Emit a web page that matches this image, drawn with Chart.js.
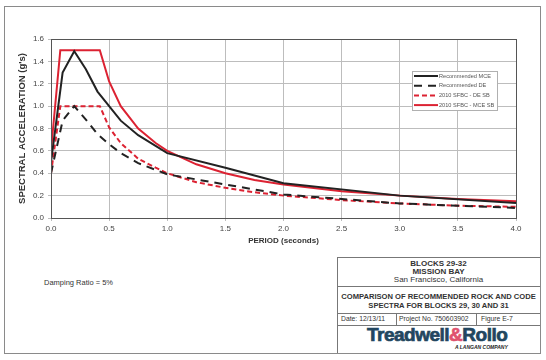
<!DOCTYPE html>
<html>
<head>
<meta charset="utf-8">
<script src="https://cdn.jsdelivr.net/npm/chart.js@4.4.1/dist/chart.umd.min.js"></script>
<style>
  body { margin: 0; background: #fff; font-family: "Liberation Sans", Arial, sans-serif; }
  #page { position: relative; width: 546px; height: 360px; overflow: hidden; background: #fff; }
  #frame { position: absolute; left: 4px; top: 6px; width: 535px; height: 346px; border: 1px solid #8a8a8a; }
  #plot { position: absolute; left: 0; top: 0; width: 546px; height: 250px; }
  .t { position: absolute; color: #333; white-space: nowrap; }
  .c { text-align: center; }
  .hl { position: absolute; height: 0; border-top: 1px solid #777; }
  .vl { position: absolute; width: 0; border-left: 1px solid #777; }
</style>
</head>
<body>
<div id="page">
  <div id="frame"></div>
  <div id="plot"><canvas id="spectraChart" width="546" height="250"></canvas></div>

  <div class="t" style="left:44px; top:278px; font-size:7.5px;">Damping Ratio = 5%</div>

  <!-- title block -->
  <div class="vl" style="left:337px; top:257px; height:96px;"></div>
  <div class="hl" style="left:337px; top:257px; width:203px;"></div>
  <div class="hl" style="left:337px; top:286px; width:203px;"></div>
  <div class="hl" style="left:337px; top:313px; width:203px;"></div>
  <div class="hl" style="left:337px; top:325px; width:203px;"></div>
  <div class="vl" style="left:396px; top:313px; height:12px;"></div>
  <div class="vl" style="left:476px; top:313px; height:12px;"></div>

  <div class="t c" style="left:337px; width:203px; top:259px; font-size:8px; font-weight:bold;">BLOCKS 29-32</div>
  <div class="t c" style="left:337px; width:203px; top:267px; font-size:8px; font-weight:bold;">MISSION BAY</div>
  <div class="t c" style="left:337px; width:203px; top:275px; font-size:8px;">San Francisco, California</div>
  <div class="t c" style="left:337px; width:203px; top:292px; font-size:7.6px; font-weight:bold;">COMPARISON OF RECOMMENDED ROCK AND CODE</div>
  <div class="t c" style="left:337px; width:203px; top:301px; font-size:7.6px; font-weight:bold;">SPECTRA FOR BLOCKS 29, 30 AND 31</div>
  <div class="t" style="left:341px; top:315px; font-size:6.8px;">Date: 12/13/11</div>
  <div class="t" style="left:399px; top:315px; font-size:6.8px;">Project No. 750603902</div>
  <div class="t" style="left:481px; top:315px; font-size:6.8px;">Figure E-7</div>
  <div class="t" style="left:367px; top:324px; font-size:19px; font-weight:bold; letter-spacing:-0.5px; color:#22465f; -webkit-text-stroke:0.7px #22465f;">Treadwell<span style="color:#e0526e; -webkit-text-stroke:0.7px #e0526e;">&amp;</span>Rollo</div>
  <div class="t" style="left:455px; top:344px; font-size:5px; font-weight:bold; font-style:italic; color:#222;">A LANGAN COMPANY</div>
</div>

<script>
// Periods (s) and spectral accelerations (g)
const codePeriods = [0, 0.08, 0.42, 0.5, 0.6, 0.75, 0.9, 1.0, 1.25, 1.5, 1.75, 2.0, 2.5, 3.0, 3.5, 4.0];
const sfbcMce =     [0.6, 1.5, 1.5, 1.22, 1.0, 0.8, 0.67, 0.6, 0.48, 0.4, 0.34, 0.3, 0.24, 0.2, 0.17, 0.15];
const sfbcDe =      [0.4, 1.0, 1.0, 0.81, 0.67, 0.53, 0.45, 0.4, 0.32, 0.27, 0.23, 0.2, 0.16, 0.13, 0.11, 0.1];

const recPeriods = [0, 0.1, 0.2, 0.3, 0.4, 0.5, 0.6, 0.75, 1.0, 1.5, 2.0, 3.0, 4.0];
const recMce =     [0.5, 1.3, 1.49, 1.33, 1.13, 1.0, 0.87, 0.74, 0.58, 0.45, 0.31, 0.2, 0.135];
const recDe =      [0.4, 0.87, 1.0, 0.88, 0.75, 0.66, 0.58, 0.49, 0.39, 0.3, 0.21, 0.13, 0.09];

const xTicks = [0, 0.5, 1.0, 1.5, 2.0, 2.5, 3.0, 3.5, 4.0];
const yTicks = [0, 0.2, 0.4, 0.6, 0.8, 1.0, 1.2, 1.4, 1.6];

const lineBlack = '#222222';
const lineRed = '#dc2232';

function toPoints(xs, ys) {
    return xs.map((x, i) => ({ x: x, y: ys[i] }));
}

// legend box drawn inside the plot area
const insideLegend = {
    id: 'insideLegend',
    afterDraw(chart) {
        const ctx = chart.ctx;
        const x0 = 412, y0 = 71, w = 85, h = 39;
        ctx.save();
        ctx.fillStyle = '#fff';
        ctx.fillRect(x0, y0, w, h);
        ctx.strokeStyle = '#b0b0b0';
        ctx.lineWidth = 1;
        ctx.strokeRect(x0 + 0.5, y0 + 0.5, w, h);
        ctx.font = '5.6px "Liberation Sans", Arial, sans-serif';
        ctx.textBaseline = 'middle';
        chart.data.datasets.forEach((ds, i) => {
            const y = y0 + 5 + i * 9.7;
            ctx.strokeStyle = ds.borderColor;
            ctx.lineWidth = 2;
            ctx.setLineDash(ds.borderDash || []);
            ctx.beginPath();
            ctx.moveTo(x0 + 2, y);
            ctx.lineTo(x0 + 26, y);
            ctx.stroke();
            ctx.setLineDash([]);
            ctx.fillStyle = '#555';
            ctx.fillText(ds.label, x0 + 27, y);
        });
        ctx.restore();
    }
};

// dark frame round the plot area
const plotFrame = {
    id: 'plotFrame',
    afterDatasetsDraw(chart) {
        const a = chart.chartArea;
        const ctx = chart.ctx;
        ctx.save();
        ctx.strokeStyle = '#555';
        ctx.lineWidth = 1;
        ctx.strokeRect(Math.round(a.left) + 0.5, Math.round(a.top) + 0.5, Math.round(a.right - a.left), Math.round(a.bottom - a.top));
        ctx.restore();
    }
};

const ctx = document.getElementById('spectraChart').getContext('2d');
new Chart(ctx, {
    type: 'scatter',
    data: {
        datasets: [{
            label: 'Recommended MCE',
            data: toPoints(recPeriods, recMce),
            borderColor: lineBlack,
            borderWidth: 2
        }, {
            label: 'Recommended DE',
            data: toPoints(recPeriods, recDe),
            borderColor: lineBlack,
            borderWidth: 2,
            borderDash: [8, 6]
        }, {
            label: '2010 SFBC - DE SB',
            data: toPoints(codePeriods, sfbcDe),
            borderColor: lineRed,
            borderWidth: 2,
            borderDash: [5, 3]
        }, {
            label: '2010 SFBC - MCE SB',
            data: toPoints(codePeriods, sfbcMce),
            borderColor: lineRed,
            borderWidth: 2
        }].map(ds => Object.assign(ds, { showLine: true, pointRadius: 0, fill: false, tension: 0 }))
    },
    options: {
        responsive: false,
        animation: false,
        layout: { padding: { left: 17, top: 39, right: 30, bottom: 0 } },
        plugins: {
            legend: { display: false },
            tooltip: { enabled: false }
        },
        scales: {
            x: {
                type: 'linear',
                min: 0,
                max: 4,
                afterBuildTicks(scale) { scale.ticks = xTicks.map(v => ({ value: v })); },
                afterFit(scale) { scale.height = 32; },
                ticks: {
                    color: '#444',
                    font: { size: 8, family: '"Liberation Sans", Arial, sans-serif' },
                    padding: 3,
                    callback: v => Number(v).toFixed(1)
                },
                grid: { color: '#bdbdbd', tickLength: 3 },
                border: { color: '#555' },
                title: {
                    display: true,
                    text: 'PERIOD (seconds)',
                    color: '#333',
                    padding: { top: 0, bottom: 4 },
                    font: { size: 8, weight: 'bold', family: '"Liberation Sans", Arial, sans-serif' }
                }
            },
            y: {
                min: 0,
                max: 1.6,
                afterBuildTicks(scale) { scale.ticks = yTicks.map(v => ({ value: v })); },
                afterFit(scale) { scale.width = 34; },
                ticks: {
                    color: '#444',
                    font: { size: 8, family: '"Liberation Sans", Arial, sans-serif' },
                    padding: 4,
                    callback: v => Number(v).toFixed(1)
                },
                grid: { color: '#bdbdbd', tickLength: 3 },
                border: { color: '#555' },
                title: {
                    display: true,
                    text: "SPECTRAL ACCELERATION (g's)",
                    color: '#333',
                    padding: { top: 0, bottom: 4 },
                    font: { size: 9.5, weight: 'bold', family: '"Liberation Sans", Arial, sans-serif' }
                }
            }
        }
    },
    plugins: [insideLegend, plotFrame]
});
</script>
</body>
</html>
